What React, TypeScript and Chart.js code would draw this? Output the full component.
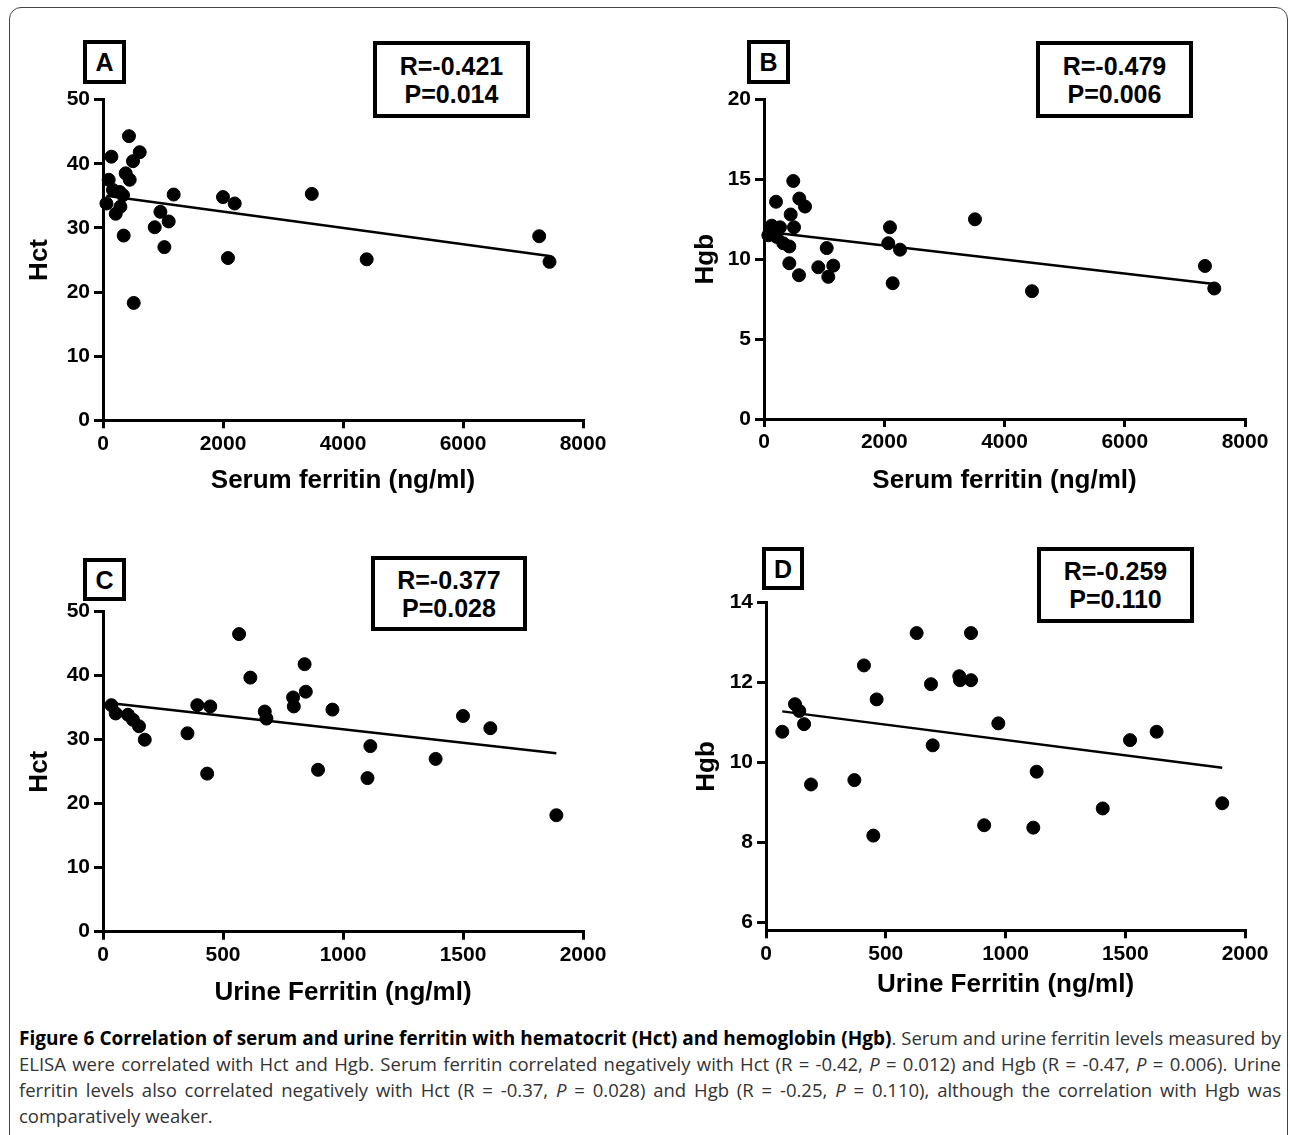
import React, { useEffect, useRef } from "react";
import { Chart, registerables } from "chart.js";

Chart.register(...registerables);

// ---------- Data ----------
// Panel A: Serum ferritin (ng/ml) vs Hct
const serumFerritinA = [57, 95, 140, 167, 212, 278, 290, 333, 345, 378, 433, 445, 500, 512, 612, 862, 957, 1023, 1095, 1178, 2000, 2083, 2195, 3480, 4395, 7270, 7442];
const hctA = [33.8, 37.5, 41.1, 35.9, 32.2, 35.6, 33.3, 35.1, 28.8, 38.5, 44.3, 37.5, 40.4, 18.3, 41.8, 30.1, 32.5, 27.0, 31.0, 35.2, 34.8, 25.3, 33.8, 35.3, 25.1, 28.7, 24.7];
const trendA_x = [57, 7442];
const trendA_y = [35.0, 25.6];

// Panel B: Serum ferritin (ng/ml) vs Hgb
const serumFerritinB = [72, 128, 200, 211, 266, 321, 421, 421, 444, 487, 499, 582, 587, 682, 903, 1043, 1069, 1152, 2067, 2095, 2140, 2262, 3509, 4457, 7334, 7489];
const hgbB = [11.5, 12.1, 13.6, 11.4, 12.0, 11.0, 10.8, 9.75, 12.8, 14.9, 12.0, 9.0, 13.8, 13.3, 9.5, 10.7, 8.9, 9.6, 11.0, 12.0, 8.5, 10.6, 12.5, 8.0, 9.58, 8.17];
const trendB_x = [72, 7489];
const trendB_y = [11.7, 8.45];

// Panel C: Urine ferritin (ng/ml) vs Hct
const urineFerritinC = [35, 53, 104, 125, 150, 174, 352, 393, 434, 447, 567, 614, 674, 681, 792, 795, 840, 845, 896, 956, 1102, 1114, 1386, 1500, 1614, 1889];
const hctC = [35.4, 34.1, 33.9, 33.1, 32.1, 30.0, 31.0, 35.4, 24.7, 35.2, 46.5, 39.7, 34.4, 33.3, 36.6, 35.2, 41.8, 37.5, 25.3, 34.7, 24.0, 29.0, 27.0, 33.7, 31.8, 18.2];
const trendC_x = [35, 1889];
const trendC_y = [35.7, 27.9];

// Panel D: Urine ferritin (ng/ml) vs Hgb
const urineFerritinD = [68, 121, 139, 159, 188, 369, 409, 448, 462, 629, 689, 696, 807, 810, 856, 856, 911, 970, 1116, 1130, 1406, 1520, 1631, 1905];
const hgbD = [10.77, 11.46, 11.29, 10.96, 9.45, 9.56, 12.43, 8.17, 11.58, 13.24, 11.96, 10.43, 12.16, 12.06, 12.06, 13.24, 8.43, 10.98, 8.37, 9.77, 8.85, 10.56, 10.77, 8.98];
const trendD_x = [68, 1905];
const trendD_y = [11.28, 9.87];

// Tick values
const serumTicks = [0, 2000, 4000, 6000, 8000];
const urineTicks = [0, 500, 1000, 1500, 2000];
const hctTicks = [0, 10, 20, 30, 40, 50];
const hgbTicksB = [0, 5, 10, 15, 20];
const hgbTicksD = [6, 8, 10, 12, 14];

// Stats text
const panelLetters = ["A", "B", "C", "D"];
const statsR = ["R=-0.421", "R=-0.479", "R=-0.377", "R=-0.259"];
const statsP = ["P=0.014", "P=0.006", "P=0.028", "P=0.110"];
const xTitles = ["Serum ferritin (ng/ml)", "Serum ferritin (ng/ml)", "Urine Ferritin (ng/ml)", "Urine Ferritin (ng/ml)"];
const yTitles = ["Hct", "Hgb", "Hct", "Hgb"];

// ---------- Layout (page pixels) ----------
type Layout = {
  canvas: { left: number; top: number; w: number; h: number };
  area: { left: number; top: number; right: number; bottom: number };
  yTitleX: number;
  xTitleY: number;
  xMin: number; xMax: number; yMin: number; yMax: number;
  labelBox: { left: number; top: number; w: number; h: number };
  statBox: { left: number; top: number; w: number; h: number };
};

const layouts: Layout[] = [
  {
    canvas: { left: 0, top: 60, w: 640, h: 440 },
    area: { left: 103, top: 99.6, right: 583, bottom: 420.3 },
    yTitleX: 40, xTitleY: 481,
    xMin: 0, xMax: 8000, yMin: 0, yMax: 50,
    labelBox: { left: 83, top: 40, w: 43, h: 44 },
    statBox: { left: 373, top: 41, w: 157, h: 77 },
  },
  {
    canvas: { left: 650, top: 60, w: 640, h: 440 },
    area: { left: 764, top: 99.5, right: 1245, bottom: 419 },
    yTitleX: 706, xTitleY: 481,
    xMin: 0, xMax: 8000, yMin: 0, yMax: 20,
    labelBox: { left: 747, top: 40, w: 43, h: 44 },
    statBox: { left: 1036, top: 41, w: 157, h: 77 },
  },
  {
    canvas: { left: 0, top: 572, w: 640, h: 440 },
    area: { left: 103, top: 611.7, right: 583, bottom: 931.7 },
    yTitleX: 40, xTitleY: 993,
    xMin: 0, xMax: 2000, yMin: 0, yMax: 50,
    labelBox: { left: 83, top: 558, w: 43, h: 43 },
    statBox: { left: 371, top: 556, w: 156, h: 75 },
  },
  {
    canvas: { left: 650, top: 563, w: 640, h: 440 },
    area: { left: 766, top: 602.7, right: 1245, bottom: 930.3 },
    yTitleX: 707, xTitleY: 985,
    xMin: 0, xMax: 2000, yMin: 5.8, yMax: 14,
    labelBox: { left: 762, top: 547, w: 42, h: 43 },
    statBox: { left: 1037, top: 547, w: 157, h: 76 },
  },
];

const panelData = [
  { xs: serumFerritinA, ys: hctA, tx: trendA_x, ty: trendA_y, xTicks: serumTicks, yTicks: hctTicks },
  { xs: serumFerritinB, ys: hgbB, tx: trendB_x, ty: trendB_y, xTicks: serumTicks, yTicks: hgbTicksB },
  { xs: urineFerritinC, ys: hctC, tx: trendC_x, ty: trendC_y, xTicks: urineTicks, yTicks: hctTicks },
  { xs: urineFerritinD, ys: hgbD, tx: trendD_x, ty: trendD_y, xTicks: urineTicks, yTicks: hgbTicksD },
];

const FONT = "'Liberation Sans', Arial, Helvetica, sans-serif";
const TICK_SIZE = 21;
const TITLE_SIZE = 26;

function Panel({ idx }: { idx: number }) {
  const ref = useRef<HTMLCanvasElement | null>(null);
  const L = layouts[idx];
  const D = panelData[idx];

  useEffect(() => {
    const canvas = ref.current;
    if (!canvas) return;
    const c = L.canvas;
    const padTop = L.area.top - c.top;
    const padRight = c.left + c.w - L.area.right;
    const yW = L.area.left - c.left;
    const xH = c.top + c.h - L.area.bottom;
    const titleLH = TITLE_SIZE * 1.2;
    const yTitlePad = L.yTitleX - c.left - titleLH / 2;
    const xTitlePad = c.top + c.h - L.xTitleY - titleLH / 2;

    const points = D.xs.map((x, i) => ({ x, y: D.ys[i] }));
    const trend = D.tx.map((x, i) => ({ x, y: D.ty[i] }));

    const tickFont = { family: FONT, size: TICK_SIZE, weight: "bold" as const };
    const titleFont = { family: FONT, size: TITLE_SIZE, weight: "bold" as const };

    const chart = new Chart(canvas, {
      type: "scatter",
      data: {
        datasets: [
          {
            data: points,
            backgroundColor: "#000",
            borderColor: "#000",
            borderWidth: 1,
            pointRadius: 6.5,
            pointHoverRadius: 6.5,
            showLine: false,
            clip: false as any,
          },
          {
            data: trend,
            borderColor: "#000",
            backgroundColor: "#000",
            borderWidth: 2.5,
            pointRadius: 0,
            showLine: true,
            fill: false,
            clip: false as any,
          },
        ],
      },
      options: {
        animation: false,
        responsive: false,
        maintainAspectRatio: false,
        layout: { padding: { top: padTop, right: padRight, left: 0, bottom: 0 } },
        plugins: { legend: { display: false }, tooltip: { enabled: false } },
        events: [],
        scales: {
          x: {
            type: "linear",
            min: L.xMin,
            max: L.xMax,
            afterBuildTicks: (s: any) => {
              s.ticks = D.xTicks.map((v) => ({ value: v }));
            },
            afterFit: (s: any) => {
              s.height = xH;
            },
            ticks: {
              font: tickFont,
              color: "#000",
              padding: 3,
              maxRotation: 0,
              autoSkip: false,
              callback: (v: any) => String(v),
            },
            grid: { display: true, drawOnChartArea: false, drawTicks: true, tickLength: 8, color: "#000", lineWidth: 3 },
            border: { display: true, color: "#000", width: 3 },
            title: { display: true, text: xTitles[idx], font: titleFont, color: "#000", padding: { top: 0, bottom: xTitlePad } },
          },
          y: {
            type: "linear",
            min: L.yMin,
            max: L.yMax,
            afterBuildTicks: (s: any) => {
              s.ticks = D.yTicks.map((v) => ({ value: v }));
            },
            afterFit: (s: any) => {
              s.width = yW;
            },
            ticks: { font: tickFont, color: "#000", padding: 4, autoSkip: false, callback: (v: any) => String(v) },
            grid: { display: true, drawOnChartArea: false, drawTicks: true, tickLength: 9, color: "#000", lineWidth: 3 },
            border: { display: true, color: "#000", width: 3 },
            title: { display: true, text: yTitles[idx], font: titleFont, color: "#000", padding: { top: yTitlePad, bottom: 0 } },
          },
        },
      } as any,
    });
    return () => chart.destroy();
  }, [idx]);

  return (
    <canvas
      ref={ref}
      width={L.canvas.w}
      height={L.canvas.h}
      style={{ position: "absolute", left: L.canvas.left, top: L.canvas.top, width: L.canvas.w, height: L.canvas.h }}
    />
  );
}

function Boxes({ idx }: { idx: number }) {
  const L = layouts[idx];
  const boxStyle: React.CSSProperties = {
    position: "absolute",
    boxSizing: "border-box",
    border: "4.5px solid #000",
    background: "#fff",
    display: "flex",
    flexDirection: "column",
    alignItems: "center",
    justifyContent: "center",
    fontFamily: FONT,
    fontWeight: "bold",
    color: "#000",
  };
  return (
    <>
      <div
        style={{
          ...boxStyle,
          left: L.labelBox.left,
          top: L.labelBox.top,
          width: L.labelBox.w,
          height: L.labelBox.h,
          fontSize: 25,
          lineHeight: "28px",
        }}
      >
        {panelLetters[idx]}
      </div>
      <div
        style={{
          ...boxStyle,
          left: L.statBox.left,
          top: L.statBox.top,
          width: L.statBox.w,
          height: L.statBox.h,
          fontSize: 25,
          lineHeight: "28px",
        }}
      >
        <div>{statsR[idx]}</div>
        <div>{statsP[idx]}</div>
      </div>
    </>
  );
}

const captionLineStyle: React.CSSProperties = {
  textAlign: "justify",
  textAlignLast: "justify" as any,
  height: 26,
  overflow: "visible",
};

export default function App() {
  return (
    <div
      style={{
        position: "absolute",
        left: 0,
        top: 0,
        width: 1290,
        height: 1135,
        overflow: "hidden",
        background: "#fff",
      }}
    >
      <div
        style={{
          position: "absolute",
          left: 9,
          top: 7,
          width: 1279,
          height: 1200,
          boxSizing: "border-box",
          border: "1.5px solid #444",
          borderRadius: "12px 12px 0 0",
        }}
      />
      {[0, 1, 2, 3].map((i) => (
        <Panel key={"p" + i} idx={i} />
      ))}
      {[0, 1, 2, 3].map((i) => (
        <Boxes key={"b" + i} idx={i} />
      ))}
      <div
        style={{
          position: "absolute",
          left: 19,
          top: 1025,
          width: 1262,
          fontFamily: "'Open Sans', 'Noto Sans', sans-serif",
          fontSize: 18.5,
          lineHeight: "26px",
          color: "#333",
        }}
      >
        <div style={captionLineStyle}>
          <b style={{ color: "#000", fontSize: 19 }}>
            Figure 6 Correlation of serum and urine ferritin with hematocrit (Hct) and hemoglobin (Hgb)
          </b>
          . Serum and urine ferritin levels measured by
        </div>
        <div style={captionLineStyle}>
          ELISA were correlated with Hct and Hgb. Serum ferritin correlated negatively with Hct (R = -0.42, <i>P</i> = 0.012) and Hgb (R = -0.47, <i>P</i> = 0.006). Urine
        </div>
        <div style={captionLineStyle}>
          ferritin levels also correlated negatively with Hct (R = -0.37, <i>P</i> = 0.028) and Hgb (R = -0.25, <i>P</i> = 0.110), although the correlation with Hgb was
        </div>
        <div style={{ height: 26 }}>comparatively weaker.</div>
      </div>
    </div>
  );
}
